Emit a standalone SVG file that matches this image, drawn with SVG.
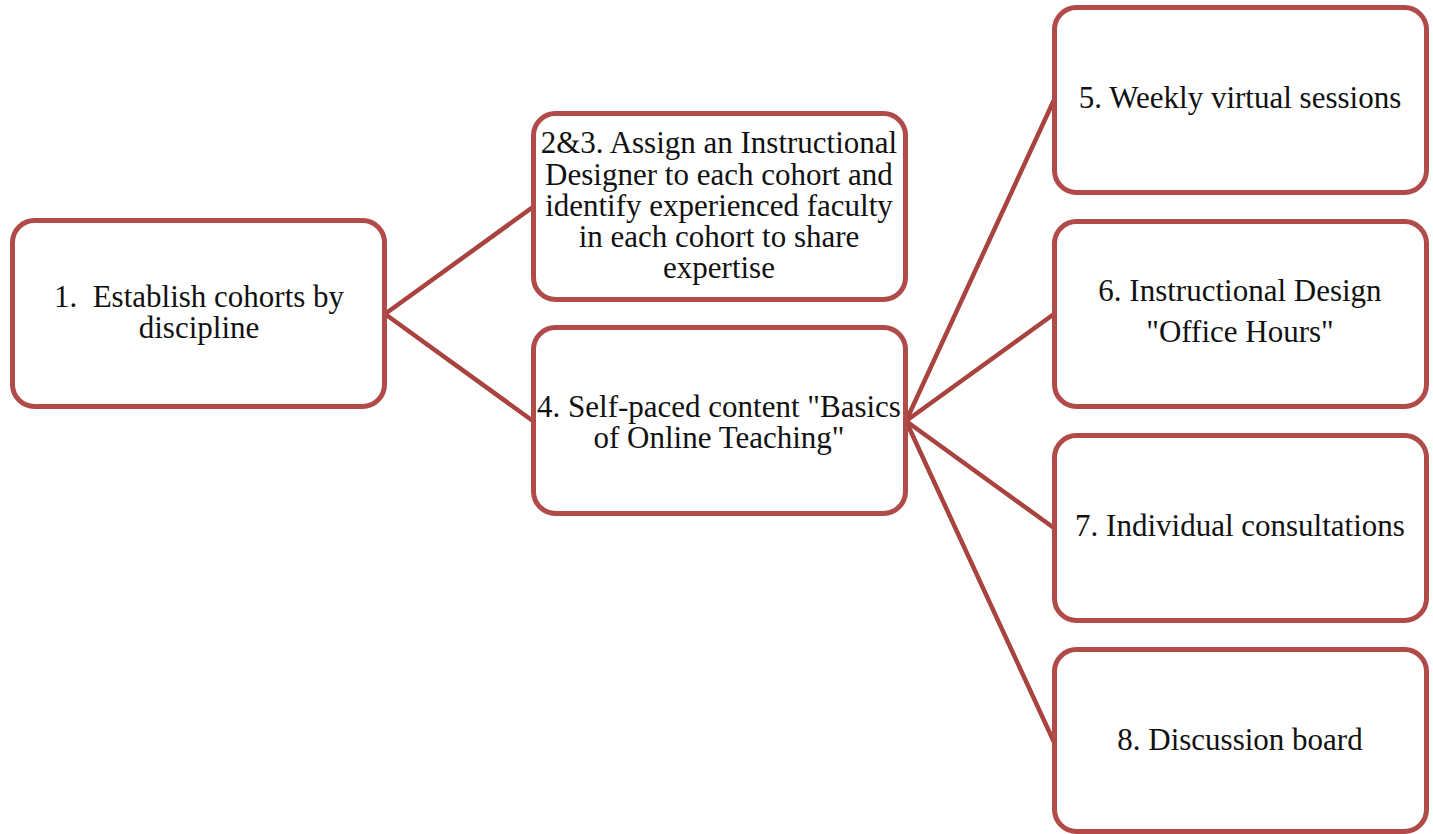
<svg xmlns="http://www.w3.org/2000/svg" width="1433" height="834" viewBox="0 0 1433 834">
<style>
.box{fill:#fff;stroke:#b14b49;stroke-width:5}
.t{font-family:"Liberation Serif","DejaVu Serif",serif;font-size:31px;fill:#111;text-anchor:middle}
.c{stroke:#a8433f;stroke-width:4.5;fill:none;stroke-linecap:round}
</style>
<rect width="1433" height="834" fill="#fff"/>
<g id="connectors">
<line class="c" x1="385" y1="314" x2="533" y2="207"/>
<line class="c" x1="385" y1="314" x2="533" y2="421"/>
<line class="c" x1="906" y1="421" x2="1054" y2="100"/>
<line class="c" x1="906" y1="421" x2="1054" y2="314"/>
<line class="c" x1="906" y1="421" x2="1054" y2="528"/>
<line class="c" x1="906" y1="421" x2="1054" y2="742"/>
</g>
<g id="n1"><rect class="box" x="12.5" y="220.5" width="372" height="186" rx="22"/>
<text class="t" x="199" y="307" xml:space="preserve">1.  Establish cohorts by</text><text class="t" x="199" y="338">discipline</text></g>
<g id="n2"><rect class="box" x="533.5" y="113.5" width="372" height="186" rx="22"/>
<text class="t" x="719" y="153">2&amp;3. Assign an Instructional</text>
<text class="t" x="719" y="185">Designer to each cohort and</text>
<text class="t" x="719" y="216">identify experienced faculty</text>
<text class="t" x="719" y="247">in each cohort to share</text>
<text class="t" x="719" y="278">expertise</text></g>
<g id="n4"><rect class="box" x="533.5" y="327.5" width="372" height="186" rx="22"/>
<text class="t" x="719" y="417">4. Self-paced content "Basics</text>
<text class="t" x="719" y="448">of Online Teaching"</text></g>
<g id="n5"><rect class="box" x="1054.5" y="7.5" width="372" height="185" rx="22"/>
<text class="t" x="1240" y="108">5. Weekly virtual sessions</text></g>
<g id="n6"><rect class="box" x="1054.5" y="221.5" width="372" height="185" rx="22"/>
<text class="t" x="1240" y="301">6. Instructional Design</text>
<text class="t" x="1240" y="342">"Office Hours"</text></g>
<g id="n7"><rect class="box" x="1054.5" y="435.5" width="372" height="185" rx="22"/>
<text class="t" x="1240" y="536">7. Individual consultations</text></g>
<g id="n8"><rect class="box" x="1054.5" y="649.5" width="372" height="182" rx="22"/>
<text class="t" x="1240" y="750">8. Discussion board</text></g>
</svg>
